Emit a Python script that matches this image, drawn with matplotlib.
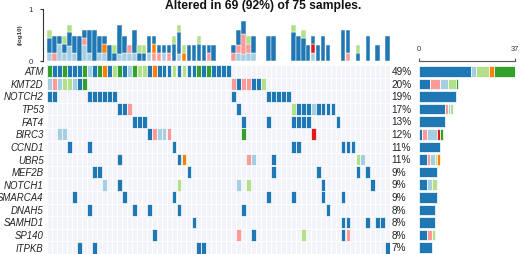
import math
import matplotlib
matplotlib.use("Agg")
import matplotlib.pyplot as plt
from matplotlib.transforms import blended_transform_factory

plt.rcParams['font.family'] = ['Liberation Sans', 'DejaVu Sans']

# ---------------- data ----------------
genes = ["ATM", "KMT2D", "NOTCH2", "TP53", "FAT4", "BIRC3", "CCND1", "UBR5",
         "MEF2B", "NOTCH1", "SMARCA4", "DNAH5", "SAMHD1", "SP140", "ITPKB"]
total_samples = 75

# variant class codes -> colours
class_colors = {"B": "#1F78B4", "L": "#A6CEE3", "g": "#B2DF8A", "G": "#33A02C",
                "P": "#FB9A99", "R": "#E31A1C", "O": "#FF7F00"}

# mutated sample (column) indices per gene and their variant class codes
gene_samples = [
    list(range(37)),
    [0, 1, 2, 3, 4, 5, 6, 7, 37, 38, 39, 40, 41, 42, 43],
    [0, 1, 8, 9, 10, 11, 12, 13, 37, 44, 45, 46, 47, 48],
    [14, 15, 16, 38, 49, 50, 51, 52, 53, 54, 55, 56, 57],
    [17, 18, 19, 39, 44, 49, 50, 51, 52, 58],
    [2, 3, 20, 21, 22, 23, 24, 39, 53],
    [4, 8, 25, 49, 50, 59, 60, 61],
    [14, 26, 27, 40, 41, 45, 62, 63],
    [9, 10, 28, 45, 54, 62, 64],
    [11, 14, 26, 38, 40, 55, 65],
    [5, 15, 25, 44, 49, 55, 59],
    [8, 17, 20, 26, 39, 56],
    [29, 59, 60, 64, 66, 67],
    [21, 38, 41, 51, 59, 60],
    [6, 9, 30, 31, 68],
]
gene_types = [
    "GBBGBBBGLBGOBgGBLGggBOBBBgBgBBGBGBBBB",
    "LPLggLBGPBPPBBg",
    "BBBBBBBBBBBBBB",
    "BBPBgBBBLBBBB",
    "BBBBBBBBBB",
    "LLBPLLPGR",
    "BBBBBBBB",
    "BBOPLBgL",
    "BBBBBBB",
    "LBgLgBB",
    "BBBBBBB",
    "BBBBBB",
    "BBBBBB",
    "BPBgBP",
    "BBBBB",
]

# variants per sample (for the top bar, log10 scaled)
sample_variants = [
    "LBBg", "PBB", "LLB", "LBg", "LLBBg", "LBB", "BBB", "LLPB", "LBBB", "BBBB",
    "LBB", "LOB", "BB", "Bg", "LBBBB", "LBB", "LP", "LBBB", "Bg", "Bg",
    "LBB", "POB", "PB", "LB", "PB", "BBg", "LBBBg", "Og", "BB", "BB",
    "BBg", "BB", "PB", "BB", "B", "B", "B", "PB", "LPBB", "LPPPBB",
    "LPg", "LBB", "B", "g", "BBB", "BBB", "B", "B", "B", "BBBBg",
    "BBB", "BBBg", "BB", "LRB", "BB", "BBB", "BB", "B", "B", "BBBB",
    "PBBB", "B", "Bg", "L", "BBB", "B", "BB", "B", "BBB",
]

# ---------------- layout ----------------
W, H = 520, 254
fig = plt.figure(figsize=(W / 100, H / 100), dpi=100)

n_samp = len(sample_variants)
n_genes = len(genes)

hx0, hx1, hy0, hy1 = 47.3, 390.2, 65.0, 254.0
ax_h = fig.add_axes([hx0 / W, 1 - hy1 / H, (hx1 - hx0) / W, (hy1 - hy0) / H])
ax_t = fig.add_axes([hx0 / W, 1 - 61.0 / H, (hx1 - hx0) / W, 52.0 / H])
rx0, rx1 = 419.3, 515.0
ax_r = fig.add_axes([rx0 / W, 1 - hy1 / H, (rx1 - rx0) / W, (hy1 - hy0) / H])

# ---------------- heatmap ----------------
bg = "#F3F4FA"
for r in range(n_genes):
    ax_h.bar([c + 0.5 for c in range(n_samp)], 1, bottom=r, width=1,
             color=bg, edgecolor="white", linewidth=0.7)
for r, (cols, types) in enumerate(zip(gene_samples, gene_types)):
    ax_h.bar([c + 0.5 for c in cols], 0.94, bottom=r + 0.03, width=0.96,
             color=[class_colors[t] for t in types], edgecolor="white", linewidth=0.5)
ax_h.set_xlim(0, n_samp)
ax_h.set_ylim(n_genes, 0)
ax_h.set_xticks([])
ax_h.set_yticks([r + 0.5 for r in range(n_genes)])
ax_h.set_yticklabels(genes, fontstyle="italic")
ax_h.tick_params(axis="y", length=0, pad=2.6, labelsize=6.9, labelcolor="#222222")
for s in ax_h.spines.values():
    s.set_visible(False)

trans = blended_transform_factory(ax_h.transAxes, ax_h.transData)
for r, cols in enumerate(gene_samples):
    pct = round(100 * len(cols) / total_samples)
    ax_h.text(1.004, r + 0.55, f"{pct}%", transform=trans, ha="left", va="center",
              fontsize=7.2, color="#222222")

# ---------------- top bar (log10) ----------------
stack_order = ["L", "P", "R", "O", "B", "g", "G"]
for i, sv in enumerate(sample_variants):
    total = len(sv)
    scale = math.log10(total) / total if total > 0 else 0
    bottom = 0.0
    for code in stack_order:
        n = sv.count(code)
        if n == 0:
            continue
        h = n * scale
        if h > 0:
            ax_t.bar(i + 0.5, h, bottom=bottom, width=0.92, color=class_colors[code],
                     edgecolor="white", linewidth=0.35)
        bottom += h
ax_t.set_xlim(0, n_samp)
ax_t.set_ylim(0, 1)
ax_t.set_xticks([])
ax_t.set_yticks([0, 1])
ax_t.set_yticklabels(["0", "1"])
ax_t.tick_params(axis="y", length=2.4, width=0.8, pad=4.5, color="#333333",
                 labelsize=5.6, labelcolor="#333333")
for k in ["top", "right", "bottom"]:
    ax_t.spines[k].set_visible(False)
ax_t.spines["left"].set_position(("outward", 3.3))
ax_t.spines["left"].set_bounds(0, 1)
ax_t.spines["left"].set_linewidth(0.8)
ax_t.spines["left"].set_color("#333333")
ax_t.set_ylabel("(log10)", fontsize=4.5, fontweight="bold", labelpad=4.0, color="#333333")
ax_t.patch.set_visible(False)

n_alt = n_samp
fig.text(263 / W, 1 - 9.2 / H,
         f"Altered in {n_alt} ({round(100 * n_alt / total_samples)}%) of {total_samples} samples.",
         ha="center", va="baseline", fontsize=8.7, fontweight="bold", color="#111111")

# ---------------- right bar ----------------
right_order = ["B", "P", "L", "g", "R", "O", "G"]
for r, types in enumerate(gene_types):
    left = 0
    for code in right_order:
        n = types.count(code)
        if n == 0:
            continue
        ax_r.barh(r + 0.5, n, left=left, height=0.84, color=class_colors[code],
                  edgecolor="white", linewidth=0.5)
        left += n
max_count = max(len(c) for c in gene_samples)
ax_r.set_xlim(0, max_count)
ax_r.set_ylim(n_genes, 0)
ax_r.set_yticks([])
ax_r.xaxis.set_ticks_position("top")
ax_r.set_xticks([0, max_count])
ax_r.set_xticklabels(["0", str(max_count)])
ax_r.tick_params(axis="x", length=2.4, width=0.8, pad=3.0, color="#555555",
                 labelsize=5.4, labelcolor="#333333")
for k in ["bottom", "left", "right"]:
    ax_r.spines[k].set_visible(False)
ax_r.spines["top"].set_position(("outward", 3.0))
ax_r.spines["top"].set_linewidth(0.8)
ax_r.spines["top"].set_color("#555555")
ax_r.patch.set_visible(False)

fig.savefig("out.png", dpi=100)
